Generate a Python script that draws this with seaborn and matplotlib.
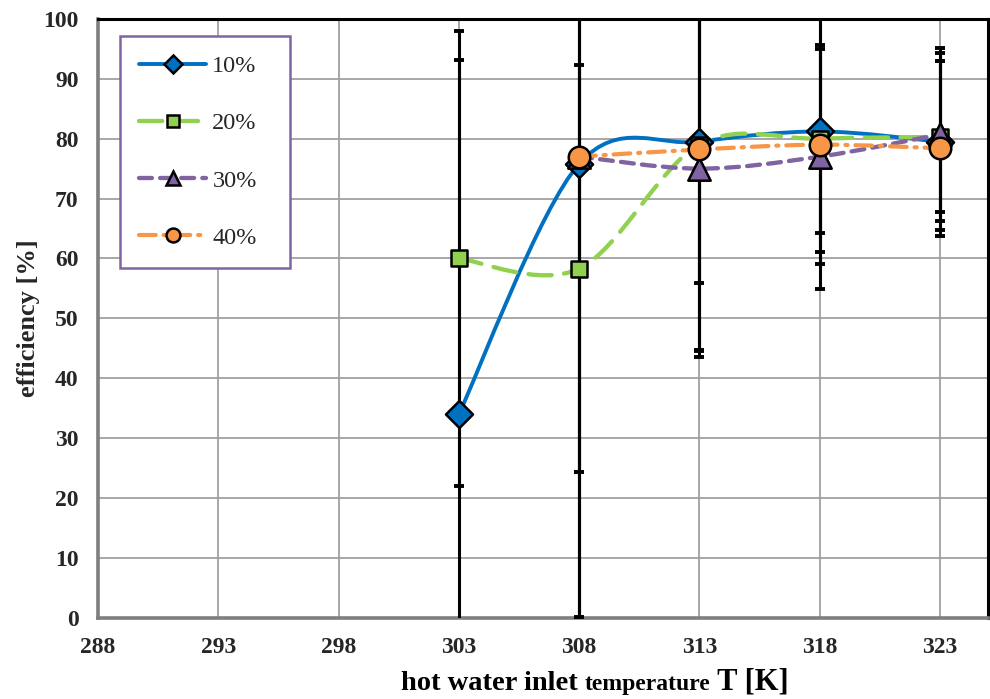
import numpy as np
import matplotlib
matplotlib.use("Agg")
import matplotlib.pyplot as plt
from matplotlib.path import Path
from matplotlib.patches import PathPatch
from matplotlib.lines import Line2D
from matplotlib.offsetbox import TextArea, HPacker, AnchoredOffsetbox
import seaborn as sns

sns.set_theme(style="white")
plt.rcParams["font.family"] = ["Liberation Serif", "DejaVu Serif"]

# hot water inlet temperature [K]
temps_all = [303, 308, 313, 318, 323]
temps_hi = [308, 313, 318, 323]

# efficiency [%] per concentration
eff_10 = [34.0, 75.8, 79.5, 81.2, 79.5]
eff_20 = [60.0, 58.3, 79.0, 80.0, 80.3]
eff_30 = [77.0, 75.0, 77.0, 80.7]
eff_40 = [77.0, 78.2, 79.0, 78.4]

# symmetric uncertainty of each point [%]
err_10 = [59.2, 75.6, 23.6, 20.2, 14.8]
err_20 = [38.0, 34.0, 34.3, 15.7, 12.6]
err_30 = [80.0, 31.4, 18.0, 14.4]
err_40 = [78.0, 33.6, 24.1, 14.6]

labels = ["10%", "20%", "30%", "40%"]
x_ticks = [288, 293, 298, 303, 308, 313, 318, 323]
y_ticks = [0, 10, 20, 30, 40, 50, 60, 70, 80, 90, 100]


def smooth_path(xs, ys):
    """Cubic Bezier path through the points (Catmull-Rom style smoothing)."""
    pts = np.column_stack([xs, ys]).astype(float)
    ext = np.vstack([pts[0], pts, pts[-1]])
    verts = [pts[0]]
    codes = [Path.MOVETO]
    for i in range(len(pts) - 1):
        p0, p1, p2, p3 = ext[i], ext[i + 1], ext[i + 2], ext[i + 3]
        verts += [p1 + (p2 - p0) / 6.0, p2 - (p3 - p1) / 6.0, p2]
        codes += [Path.CURVE4] * 3
    return Path(verts, codes)


series = [
    dict(x=temps_all, y=eff_10, e=err_10, color="#0070C0", marker="D", s=190,
         ls="-", lw=2.8, ms=9),
    dict(x=temps_all, y=eff_20, e=err_20, color="#92D050", marker="s", s=125,
         ls=(0, (5.4, 2.9)), lw=3.1, ms=9),
    dict(x=temps_hi, y=eff_30, e=err_30, color="#8064A2", marker="^", s=260,
         ls=(0, (3.0, 1.9)), lw=3.1, ms=10.5),
    dict(x=temps_hi, y=eff_40, e=err_40, color="#F79646", marker="o", s=240,
         ls=(0, (4.0, 1.9, 0.5, 1.9)), lw=3.0, ms=10),
]

fig = plt.figure(figsize=(9.9, 6.99), dpi=100)
ax = fig.add_axes([0.099, 0.116, 0.899, 0.857])

# smoothed connecting lines
for k, sr in enumerate(series):
    patch = PathPatch(smooth_path(sr["x"], sr["y"]), fill=False,
                      edgecolor=sr["color"], lw=sr["lw"], linestyle=sr["ls"],
                      capstyle="round", zorder=2 + 0.1 * k)
    ax.add_patch(patch)

# error bars
for sr in series:
    ax.errorbar(sr["x"], sr["y"], yerr=sr["e"], fmt="none", ecolor="black",
                elinewidth=2.2, capsize=3.3, capthick=2.8, zorder=3)

# markers
for k, sr in enumerate(series):
    sns.scatterplot(x=sr["x"], y=sr["y"], marker=sr["marker"], s=sr["s"],
                    color=sr["color"], edgecolor="black", linewidth=1.8,
                    ax=ax, zorder=4 + 0.1 * k, legend=False)

ax.set_xlim(288, 325)
ax.set_ylim(0, 100)
ax.set_xticks(x_ticks)
ax.set_yticks(y_ticks)
ax.set_xticklabels([str(t) for t in x_ticks])
ax.set_yticklabels([str(t) for t in y_ticks])
ax.tick_params(axis="both", length=0, labelsize=17)
ax.tick_params(axis="y", pad=14)
ax.tick_params(axis="x", pad=14)
for lab in ax.get_xticklabels() + ax.get_yticklabels():
    lab.set_fontweight("bold")

ax.grid(True, color="#a0a0a0", lw=1.3)
ax.set_axisbelow(True)
for side in ("left", "bottom"):
    ax.spines[side].set_color("#7f7f7f")
    ax.spines[side].set_linewidth(2.6)
for side in ("top", "right"):
    ax.spines[side].set_color("black")
    ax.spines[side].set_linewidth(2.2)

ax.set_ylabel("efficiency [%]", fontsize=19, fontweight="bold", labelpad=2)
ax.set_xlabel("")

# axis title with a smaller middle word
parts = [("hot water inlet ", 20.5), ("temperature", 17), (" T [K]", 22)]
areas = [TextArea(t, textprops=dict(fontsize=fs, fontweight="bold",
                                    color="black")) for t, fs in parts]
title_box = HPacker(children=areas, align="baseline", pad=0, sep=0)
anchored = AnchoredOffsetbox(loc="lower center", child=title_box, pad=0,
                             borderpad=0, frameon=False,
                             bbox_to_anchor=(595 / 990, 0.003),
                             bbox_transform=fig.transFigure)
fig.add_artist(anchored)

# legend
handles = [Line2D([0], [0], color=sr["color"], lw=sr["lw"], linestyle=sr["ls"],
                  marker=sr["marker"], markersize=sr["ms"],
                  markerfacecolor=sr["color"], markeredgecolor="black",
                  markeredgewidth=1.8, dash_capstyle="round")
           for sr in series]
leg = ax.legend(handles, labels, loc="upper left",
                bbox_to_anchor=(0.0247, 0.972, 0.191, 0.0), mode="expand",
                borderaxespad=0, fontsize=17.5, handlelength=2.75,
                handletextpad=0.25, labelspacing=1.45, borderpad=0.8,
                fancybox=False, framealpha=1, numpoints=1)
leg.get_frame().set_edgecolor("#8064A2")
leg.get_frame().set_linewidth(1.8)
leg.set_zorder(6)

fig.savefig("out.png", dpi=100)
